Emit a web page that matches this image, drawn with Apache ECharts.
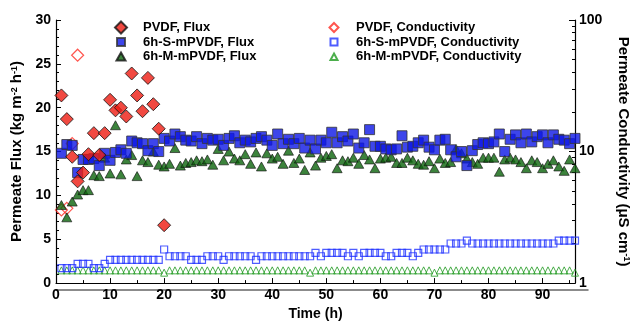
<!DOCTYPE html>
<html><head><meta charset="utf-8">
<script src="https://cdn.jsdelivr.net/npm/echarts@6/dist/echarts.min.js"></script>
<style>html,body{margin:0;padding:0;background:#fff}#c{width:639px;height:326px}</style>
</head><body><div id="c"></div>
<script>
const hours = [1,2,3,4,5,6,7,8,9,10,11,12,13,14,15,16,17,18,19,20,21,22,23,24,25,26,27,28,29,30,31,32,33,34,35,36,37,38,39,40,41,42,43,44,45,46,47,48,49,50,51,52,53,54,55,56,57,58,59,60,61,62,63,64,65,66,67,68,69,70,71,72,73,74,75,76,77,78,79,80,81,82,83,84,85,86,87,88,89,90,91,92,93,94,95,96];
const pvdfHours = [1,2,3,4,5,6,7,8,9,10,11,12,13,14,15,16,17,18,19,20];
const pvdfFlux = [21.4,18.7,14.4,11.6,12.6,14.7,17.1,14.6,17.1,20.9,19.7,20.0,19.0,23.9,21.4,19.6,23.4,20.4,17.6,6.6];
const pvdfCondHours = [1,2,3,4];
const pvdfCond = [3.6,3.7,11.5,54];
const sFlux = [14.8,15.8,15.7,12.6,14.1,14.1,14.2,13.4,14.8,14.0,14.9,15.2,14.8,16.2,16.0,15.9,15.1,15.9,15.0,16.5,
16.2,17.0,16.7,16.3,16.2,16.7,15.9,16.5,16.3,16.4,15.7,16.5,16.8,16.0,16.3,16.1,16.5,16.7,16.3,15.7,
17.0,15.9,16.4,15.9,16.5,15.4,16.3,15.3,16.3,16.0,17.2,16.0,16.7,16.2,17.0,15.4,16.0,17.5,15.6,15.6,
15.3,15.2,15.3,16.8,15.5,15.6,16.0,16.3,15.5,15.2,16.3,16.4,15.2,14.4,15.0,13.4,15.1,15.8,16.0,15.9,
16.1,17.0,15.0,16.4,16.9,16.0,17.0,16.1,16.7,16.9,16.0,16.9,16.4,16.3,15.9,16.5];
const mFlux = [8.9,7.5,9.3,10.1,10.6,10.6,12.3,12.2,14.3,12.5,18.0,12.4,14.1,14.6,12.2,14.0,13.8,15.0,13.5,13.3,
13.6,15.4,13.4,13.7,13.8,14.0,13.9,14.1,13.5,15.3,14.0,15.0,14.2,14.0,14.7,13.6,14.9,13.3,14.8,14.2,
14.4,13.6,15.1,13.7,14.2,12.9,14.9,13.4,14.3,14.5,14.7,13.1,14.0,13.9,14.3,13.6,14.6,14.1,13.1,14.2,
14.3,14.4,13.7,13.7,14.3,14.0,13.6,13.5,13.9,13.1,14.2,13.7,13.8,15.3,14.8,14.2,13.8,13.6,14.3,14.3,
14.3,12.7,14.1,14.3,14.1,13.8,13.1,14.0,13.8,13.1,13.6,14.0,13.3,12.8,14.1,13.1];
const sCond = [1.3,1.3,1.3,1.4,1.4,1.4,1.3,1.3,1.4,1.5,1.5,1.5,1.5,1.5,1.5,1.5,1.5,1.5,1.5,1.8,
1.6,1.6,1.6,1.6,1.5,1.5,1.5,1.6,1.6,1.6,1.5,1.6,1.6,1.6,1.6,1.6,1.5,1.6,1.6,1.6,
1.6,1.6,1.6,1.6,1.6,1.6,1.6,1.7,1.6,1.7,1.7,1.7,1.7,1.6,1.7,1.6,1.7,1.7,1.7,1.7,
1.6,1.6,1.7,1.7,1.7,1.6,1.7,1.8,1.8,1.8,1.8,1.8,2.0,2.0,2.0,2.1,2.0,2.0,2.0,2.0,
2.0,2.0,2.0,2.0,2.0,2.0,2.0,2.0,2.0,2.0,2.0,2.0,2.1,2.1,2.1,2.1];
const mCond = [1.25,1.25,1.25,1.25,1.25,1.25,1.25,1.25,1.25,1.25,1.25,1.25,1.25,1.25,1.25,1.25,1.25,1.25,1.25,1.2,
1.25,1.25,1.25,1.25,1.25,1.25,1.25,1.25,1.25,1.25,1.25,1.25,1.25,1.25,1.25,1.25,1.25,1.25,1.25,1.25,
1.25,1.25,1.25,1.25,1.25,1.25,1.2,1.25,1.25,1.25,1.25,1.25,1.25,1.25,1.25,1.25,1.25,1.25,1.25,1.25,
1.25,1.25,1.25,1.25,1.25,1.25,1.25,1.25,1.25,1.2,1.25,1.25,1.25,1.25,1.25,1.25,1.25,1.25,1.25,1.25,
1.25,1.25,1.25,1.25,1.25,1.25,1.25,1.25,1.25,1.25,1.25,1.25,1.25,1.25,1.25,1.2];
const xTicks = [0,10,20,30,40,50,60,70,80,90];
const fluxTicks = [0,5,10,15,20,25,30];
const condMajor = [1,10,100];
const condMinor = [2,3,4,5,6,7,8,9,20,30,40,50,60,70,80,90];

const names = ['PVDF, Flux','6h-S-mPVDF, Flux','6h-M-mPVDF, Flux','PVDF, Conductivity','6h-S-mPVDF, Conductivity','6h-M-mPVDF, Conductivity'];
const zip = (xs, ys) => ys.map((y, i) => [xs[i], y]);

const FONT = 'Liberation Sans, Arial, sans-serif';
const RED = '#ee1c12', BLUE = '#0c16e6', GREEN = '#0b640b';
const HRED = '#ff2a22', HBLUE = '#2233ff', HGREEN = '#1f9a1f';
const BOX = 'M0,0M34,12';
const icons = [
  'path://' + BOX + 'M17,0L23,6L17,12L11,6Z',
  'path://' + BOX + 'M13,2L21,2L21,10L13,10Z',
  'path://' + BOX + 'M17,2L21.5,10L12.5,10Z',
  'path://' + BOX + 'M17,1.5L21.5,6L17,10.5L12.5,6Z',
  'path://' + BOX + 'M13.5,2.5L20.5,2.5L20.5,9.5L13.5,9.5Z',
  'path://' + BOX + 'M17,3L20.5,9.5L13.5,9.5Z'
];

const chart = echarts.init(document.getElementById('c'), null, {renderer: 'canvas'});
const legendText = {fontFamily: FONT, fontWeight: 'bold', fontSize: 13, color: '#000', lineHeight: 13};
const titleStyle = (extra) => Object.assign({fontFamily: FONT, fontWeight: 'bold', fontSize: 15, color: '#000',
  rich: {s: {fontFamily: FONT, fontWeight: 'bold', fontSize: 9, color: '#000', verticalAlign: 'top', padding: [0,0,6,0]}}}, extra || {});
chart.setOption({
  animation: false,
  backgroundColor: '#fff',
  grid: [{left: 56, right: 51, top: 20, bottom: 36}, {left: 56, right: 51, top: 16, bottom: 36}],
  legend: [
    {data: names.slice(0,3).map((n, i) => ({name: n, icon: icons[i]})), orient: 'vertical', left: 103, top: 20.5, padding: 0,
      itemWidth: 34, itemHeight: 12, itemGap: 0.5, textStyle: legendText, selectedMode: false},
    {data: names.slice(3).map((n, i) => ({name: n, icon: icons[i + 3]})), orient: 'vertical', left: 316, top: 20.5, padding: 0,
      itemWidth: 34, itemHeight: 12, itemGap: 0.5, textStyle: legendText, selectedMode: false}
  ],
  xAxis: [{
    type: 'value', min: 0, max: 96, interval: 10,
    name: 'Time (h)', nameLocation: 'middle', nameGap: 15,
    nameTextStyle: {fontFamily: FONT, fontWeight: 'bold', fontSize: 14, color: '#000'},
    axisLine: {lineStyle: {color: '#000', width: 1.2}},
    axisTick: {inside: true, length: 5, lineStyle: {color: '#000'}},
    minorTick: {show: true, splitNumber: 2, length: 3, lineStyle: {color: '#000'}},
    axisLabel: {margin: 5, fontFamily: FONT, fontWeight: 'bold', fontSize: 14, color: '#000', customValues: xTicks},
    splitLine: {show: false}
  }, {
    gridIndex: 1, type: 'value', min: 0, max: 96, position: 'top',
    axisLine: {show: true, lineStyle: {color: '#666', width: 1.5}},
    axisTick: {show: false}, axisLabel: {show: false}, splitLine: {show: false}
  }],
  yAxis: [{
    type: 'value', min: 0, max: 30, interval: 5,
    name: 'Permeate Flux (kg m{s|-2} h{s|-1})', nameLocation: 'middle', nameGap: 21, nameRotate: 90,
    nameTextStyle: titleStyle(),
    axisLine: {show: true, lineStyle: {color: '#000', width: 1.2}},
    axisTick: {inside: true, length: 5, lineStyle: {color: '#000'}},
    minorTick: {show: true, splitNumber: 5, length: 3, lineStyle: {color: '#000'}},
    axisLabel: {margin: 5, fontFamily: FONT, fontWeight: 'bold', fontSize: 14, color: '#000', customValues: fluxTicks},
    splitLine: {show: false}
  }, {
    type: 'log', logBase: 10, min: 1, max: 100, position: 'right',
    name: 'Permeate Conductivity (\u03bcS cm{s|-1})', nameLocation: 'middle', nameGap: 41, nameRotate: -90,
    nameTextStyle: titleStyle(),
    axisLine: {show: true, lineStyle: {color: '#000', width: 1.2}},
    axisTick: {inside: true, length: 6, lineStyle: {color: '#000'}, customValues: condMajor},
    axisLabel: {margin: 4, fontFamily: FONT, fontWeight: 'bold', fontSize: 14, color: '#000', customValues: condMajor},
    splitLine: {show: false}
  }, {
    type: 'log', logBase: 10, min: 1, max: 100, position: 'right', offset: 0,
    axisLine: {show: false},
    axisTick: {inside: true, length: 3, lineStyle: {color: '#000'}, customValues: condMinor},
    axisLabel: {show: false},
    splitLine: {show: false}
  }, {
    gridIndex: 1, type: 'value', min: 0, max: 1, show: false
  }],
  series: [
    {name: names[5], type: 'scatter', yAxisIndex: 1, data: zip(hours, mCond), symbol: 'triangle', symbolSize: 7,
      itemStyle: {color: 'rgba(255,255,255,0)', borderColor: HGREEN, borderWidth: 1}},
    {name: names[4], type: 'scatter', yAxisIndex: 1, data: zip(hours, sCond), symbol: 'rect', symbolSize: 7,
      itemStyle: {color: 'rgba(255,255,255,0)', borderColor: HBLUE, borderWidth: 1.2}},
    {name: names[3], type: 'scatter', yAxisIndex: 1, data: zip(pvdfCondHours, pvdfCond), symbol: 'diamond', symbolSize: 12,
      itemStyle: {color: 'rgba(255,255,255,0)', borderColor: HRED, borderWidth: 1.2}},
    {name: names[2], type: 'scatter', yAxisIndex: 0, data: zip(hours, mFlux), symbol: 'triangle', symbolSize: [10, 9],
      itemStyle: {color: GREEN, borderColor: '#111', borderWidth: 0.8}},
    {name: names[1], type: 'scatter', yAxisIndex: 0, data: zip(hours, sFlux), symbol: 'rect', symbolSize: 10,
      itemStyle: {color: BLUE, borderColor: '#333', borderWidth: 1}},
    {name: names[0], type: 'scatter', yAxisIndex: 0, data: zip(pvdfHours, pvdfFlux), symbol: 'diamond', symbolSize: 13,
      itemStyle: {color: RED, borderColor: '#111', borderWidth: 1}}
  ]
});
</script></body></html>
